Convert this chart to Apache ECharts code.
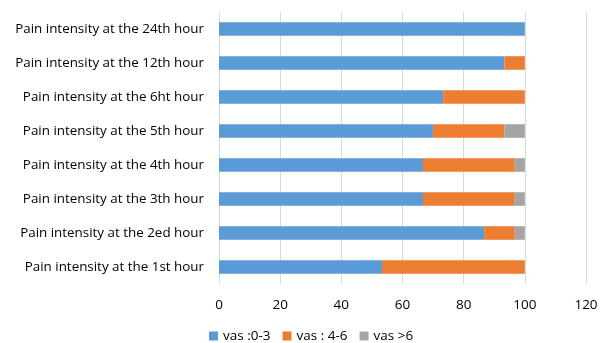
<!DOCTYPE html>
<html><head><meta charset="utf-8">
<script src="https://cdn.jsdelivr.net/npm/echarts@6/dist/echarts.min.js"></script>
<style>html,body{margin:0;padding:0;background:#fff}#c{width:603px;height:343px}</style>
</head><body><div id="c"></div>
<script>
const categories = ["Pain intensity at the 1st hour","Pain intensity at the 2ed hour","Pain intensity at the 3th hour","Pain intensity at the 4th hour","Pain intensity at the 5th hour","Pain intensity at the 6ht hour","Pain intensity at the 12th hour","Pain intensity at the 24th hour"];
const vasLow = [53.3, 86.7, 66.7, 66.7, 70, 73.3, 93.3, 100];
const vasMid = [46.7, 10, 30, 30, 23.3, 26.7, 6.7, 0];
const vasHigh = [0, 3.3, 3.3, 3.3, 6.7, 0, 0, 0];
const seriesNames = ["vas :0-3", "vas : 4-6", "vas >6"];
const colors = ["#5b9bd5", "#ed7d31", "#a5a5a5"];
const font = "Open Sans, Liberation Sans, sans-serif";
const chart = echarts.init(document.getElementById('c'));
const mk = (name, data, c) => ({name, type:'bar', stack:'s', data, barWidth:'40%', itemStyle:{color:c}, emphasis:{disabled:true}});
chart.setOption({
  animation:false,
  textStyle:{fontFamily:font},
  grid:{left:219, right:17, top:12, bottom:59, containLabel:false},
  xAxis:{type:'value', min:0, max:120, interval:20,
    axisLine:{show:false}, axisTick:{show:false},
    splitLine:{lineStyle:{color:'#d9d9d9', width:1}},
    axisLabel:{color:'#000', fontSize:13.5, margin:14, fontFamily:font}},
  yAxis:{type:'category', data:categories,
    axisLine:{show:true, lineStyle:{color:'#d9d9d9'}}, axisTick:{show:false},
    axisLabel:{color:'#000', fontSize:13.4, margin:15, fontFamily:font}},
  legend:{top:327, left:207, padding:[2,2,0,2], itemWidth:9, itemHeight:9, itemGap:12, icon:'rect',
    textStyle:{color:'#000', fontSize:13.5, fontFamily:font}, data:seriesNames},
  series:[mk(seriesNames[0], vasLow, colors[0]), mk(seriesNames[1], vasMid, colors[1]), mk(seriesNames[2], vasHigh, colors[2])]
});
</script></body></html>
